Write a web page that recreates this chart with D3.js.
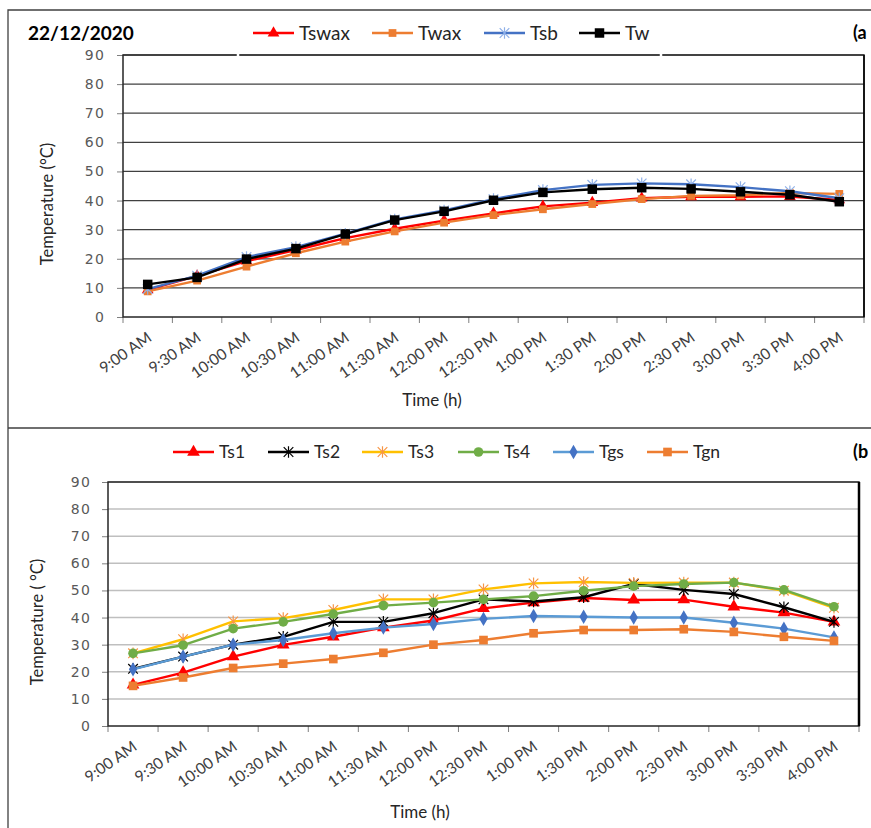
<!DOCTYPE html>
<html>
<head>
<meta charset="utf-8">
<script src="https://cdn.jsdelivr.net/npm/d3@7"></script>
<style>
body{margin:0;background:#fff}
svg{display:block}
</style>
</head>
<body>
<div id="chart"></div>
<script>

// time axis, shared by both panels
const times = ['9:00 AM','9:30 AM','10:00 AM','10:30 AM','11:00 AM','11:30 AM','12:00 PM','12:30 PM',
	'1:00 PM','1:30 PM','2:00 PM','2:30 PM','3:00 PM','3:30 PM','4:00 PM']
const yTicks = [0,10,20,30,40,50,60,70,80,90]

// panel (a)
const tswax = [9.3,14.1,19.2,23.0,27.1,30.3,33.1,35.6,38.0,39.3,40.8,41.3,41.3,41.4,40.2]
const twax  = [8.8,12.5,17.3,21.9,25.9,29.4,32.4,35.0,37.0,38.8,40.5,41.6,41.8,42.6,42.3]
const tsb   = [9.6,14.2,20.6,24.0,28.6,33.5,36.6,40.5,43.6,45.4,45.9,45.6,44.6,43.2,40.8]
const tw    = [11.2,13.6,19.9,23.5,28.5,33.3,36.3,40.1,42.8,43.9,44.4,44.0,43.0,42.0,39.6]

// panel (b)
const ts1 = [15.2,19.7,25.6,29.9,32.9,36.3,38.9,43.4,45.5,47.2,46.5,46.6,44.0,41.8,38.4]
const ts2 = [21.1,25.6,30.0,32.9,38.4,38.4,41.6,46.7,45.9,47.5,52.4,50.2,48.7,43.8,38.4]
const ts3 = [26.8,32.0,38.6,39.8,42.8,46.7,46.7,50.4,52.6,53.1,52.8,52.9,52.9,49.9,43.6]
const ts4 = [26.8,29.8,35.9,38.4,41.3,44.4,45.5,46.7,47.9,49.9,51.6,52.4,52.9,50.2,44.0]
const tgs = [20.9,25.6,30.0,31.7,34.2,36.3,37.6,39.5,40.6,40.3,40.0,40.0,38.1,35.9,32.7]
const tgn = [14.8,17.9,21.4,23.0,24.7,27.0,30.0,31.7,34.2,35.4,35.4,35.7,34.7,32.9,31.4]


const W = 871, H = 828

let svg = d3.select('#chart').append('svg')
	.attr('width', W)
	.attr('height', H)

// outer frames of the two panels
svg.append('path')
	.attr('d', 'M8,828 L8,10 L871,10 M8,428 L871,428')
	.attr('fill', 'none')
	.attr('stroke', '#404040')
	.attr('stroke-width', 1.3)

let starPath = function(r){
	return 'M' + (-r) + ',' + (-r) + 'L' + r + ',' + r + 'M' + (-r) + ',' + r + 'L' + r + ',' + (-r) +
		'M0,' + (-r - 1) + 'L0,' + (r + 1)
}

function marker(g, m){
	if(m.type == 'star'){
		g.append('path').attr('d', starPath(4.8)).attr('fill', 'none')
			.attr('stroke', m.color).attr('stroke-width', 1.2)
	}
	else if(m.type == 'circle'){
		g.append('circle').attr('r', 4.8).attr('fill', m.color)
	}
	else{
		let sym = {tri: d3.symbolTriangle, square: d3.symbolSquare, diamond: d3.symbolDiamond}[m.type]
		g.append('path').attr('d', d3.symbol(sym, m.size || 60)()).attr('fill', m.color)
	}
}

function drawPanel(p){

	let x = d3.scaleBand().domain(times).range([p.left, p.right])
	let y = d3.scaleLinear().domain([0, 90]).range([p.bottom, p.top])
	let cx = d => x(d) + x.bandwidth() / 2

	// grid
	svg.append('g').selectAll('line')
		.data(yTicks.slice(1))
		.enter()
		.append('line')
		.attr('x1', p.left).attr('x2', p.right)
		.attr('y1', d => y(d)).attr('y2', d => y(d))
		.attr('stroke', p.grid)
		.attr('stroke-width', p.gridW)

	// y axis
	let ya = svg.append('g')
		.attr('transform', 'translate(' + p.left + ',0)')
		.call(d3.axisLeft(y).tickValues(yTicks).tickSize(6).tickPadding(p.tickPad))
	ya.select('.domain').remove()
	ya.selectAll('line').attr('stroke', '#7f7f7f')
	ya.selectAll('text')
		.attr('font-family', 'DejaVu Sans')
		.attr('font-size', 14)
		.attr('letter-spacing', 1.2)
		.attr('fill', '#595959')

	// x ticks between categories
	svg.append('g').selectAll('line')
		.data(d3.range(times.length + 1))
		.enter()
		.append('line')
		.attr('x1', i => p.left + i * x.step()).attr('x2', i => p.left + i * x.step())
		.attr('y1', p.bottom).attr('y2', p.bottom + 6)
		.attr('stroke', '#7f7f7f')

	svg.append('g').selectAll('text')
		.data(times)
		.enter()
		.append('text')
		.text(d => d)
		.attr('transform', d => 'translate(' + (cx(d) + 5) + ',' + (p.bottom + 23) + ') rotate(-35)')
		.attr('text-anchor', 'end')
		.attr('font-family', 'Lato')
		.attr('font-size', 15.5)
		.attr('fill', '#404040')

	// plot frame
	svg.append('rect')
		.attr('x', p.left).attr('y', p.top)
		.attr('width', p.right - p.left).attr('height', p.bottom - p.top)
		.attr('fill', 'none')
		.attr('stroke', '#262626')
		.attr('stroke-width', 1.5)
	svg.append('line')
		.attr('x1', p.right).attr('x2', p.right)
		.attr('y1', p.top).attr('y2', p.bottom)
		.attr('stroke', '#000')
		.attr('stroke-width', p.rightW)

	// small breaks left in the top frame by the legend box
	if(p.gaps){
		svg.append('g').selectAll('line')
			.data(p.gaps)
			.enter()
			.append('line')
			.attr('x1', d => d).attr('x2', d => d)
			.attr('y1', p.top - 2).attr('y2', p.top + 1.5)
			.attr('stroke', '#fff')
			.attr('stroke-width', 2.5)
	}

	// series
	let line = d3.line().x((d, i) => cx(times[i])).y(d => y(d))

	p.series.forEach(function(s){
		svg.append('path')
			.datum(s.values)
			.attr('d', line)
			.attr('fill', 'none')
			.attr('stroke', s.color)
			.attr('stroke-width', 2.4)
			.attr('stroke-linejoin', 'round')

		svg.append('g').selectAll('g')
			.data(s.values)
			.enter()
			.append('g')
			.attr('transform', (d, i) => 'translate(' + cx(times[i]) + ',' + y(d) + ')')
			.each(function(){ marker(d3.select(this), s.marker) })
	})

	// legend
	let lg = svg.append('g').selectAll('g')
		.data(p.series)
		.enter()
		.append('g')
		.attr('transform', d => 'translate(' + d.lx + ',' + p.legendY + ')')

	lg.append('line')
		.attr('x1', 0).attr('x2', p.legLen)
		.attr('stroke', d => d.color)
		.attr('stroke-width', 2.6)
	lg.append('g')
		.attr('transform', 'translate(' + (p.legLen / 2) + ',0)')
		.each(function(d){ marker(d3.select(this), d.marker) })
	lg.append('text')
		.text(d => d.name)
		.attr('x', p.legLen + 5)
		.attr('dy', '0.36em')
		.attr('font-family', 'Lato')
		.attr('font-size', p.legFont)
		.attr('fill', '#262626')

	// axis titles
	svg.append('text')
		.text(p.yTitle)
		.attr('transform', 'translate(' + p.yTitleX + ',' + ((p.top + p.bottom) / 2 + 18) + ') rotate(-90)')
		.attr('text-anchor', 'middle')
		.attr('font-family', 'Lato')
		.attr('font-size', 16.5)
		.attr('fill', '#262626')

	svg.append('text')
		.text('Time (h)')
		.attr('x', p.xTitleX).attr('y', p.xTitleY)
		.attr('text-anchor', 'middle')
		.attr('font-family', 'Lato')
		.attr('font-size', 17)
		.attr('fill', '#262626')

	svg.append('text')
		.text(p.tag)
		.attr('x', 853).attr('y', p.legendY)
		.attr('dy', '0.36em')
		.attr('font-family', 'Lato')
		.attr('font-weight', 'bold')
		.attr('font-size', 18)
		.attr('fill', '#000')
}

drawPanel({
	left: 123, right: 864, top: 55, bottom: 317,
	grid: '#404040', gridW: 1.2, rightW: 1.5, tickPad: 12,
	legendY: 33, legLen: 41, legFont: 19,
	yTitle: 'Temperature (°C)', yTitleX: 53,
	xTitleX: 432, xTitleY: 406, tag: '(a', gaps: [238, 661],
	series: [
		{name: 'Tswax', values: tswax, color: '#ff0000', marker: {type: 'tri', color: '#ff0000'}, lx: 253},
		{name: 'Twax', values: twax, color: '#ed7d31', marker: {type: 'square', color: '#ed7d31'}, lx: 372},
		{name: 'Tsb', values: tsb, color: '#4472c4', marker: {type: 'star', color: '#8fb0e8'}, lx: 484},
		{name: 'Tw', values: tw, color: '#000000', marker: {type: 'square', color: '#000000', size: 90}, lx: 579}
	]
})

drawPanel({
	left: 108, right: 859, top: 482, bottom: 726,
	grid: '#bfbfbf', gridW: 1.5, rightW: 2.5, tickPad: 11,
	legendY: 452, legLen: 41, legFont: 17.5,
	yTitle: 'Temperature ( °C)', yTitleX: 43,
	xTitleX: 420, xTitleY: 818, tag: '(b',
	series: [
		{name: 'Ts1', values: ts1, color: '#ff0000', marker: {type: 'tri', color: '#ff0000', size: 70}, lx: 173},
		{name: 'Ts2', values: ts2, color: '#000000', marker: {type: 'star', color: '#000000'}, lx: 268},
		{name: 'Ts3', values: ts3, color: '#ffc000', marker: {type: 'star', color: '#f79646'}, lx: 362},
		{name: 'Ts4', values: ts4, color: '#70ad47', marker: {type: 'circle', color: '#70ad47'}, lx: 458},
		{name: 'Tgs', values: tgs, color: '#5b9bd5', marker: {type: 'diamond', color: '#4472c4'}, lx: 553},
		{name: 'Tgn', values: tgn, color: '#ed7d31', marker: {type: 'square', color: '#ed7d31', size: 75}, lx: 647}
	]
})

// date stamp
svg.append('text')
	.text('22/12/2020')
	.attr('x', 28).attr('y', 33)
	.attr('dy', '0.36em')
	.attr('font-family', 'Lato')
	.attr('font-weight', 'bold')
	.attr('font-size', 19)
	.attr('fill', '#000')

</script>
</body>
</html>
